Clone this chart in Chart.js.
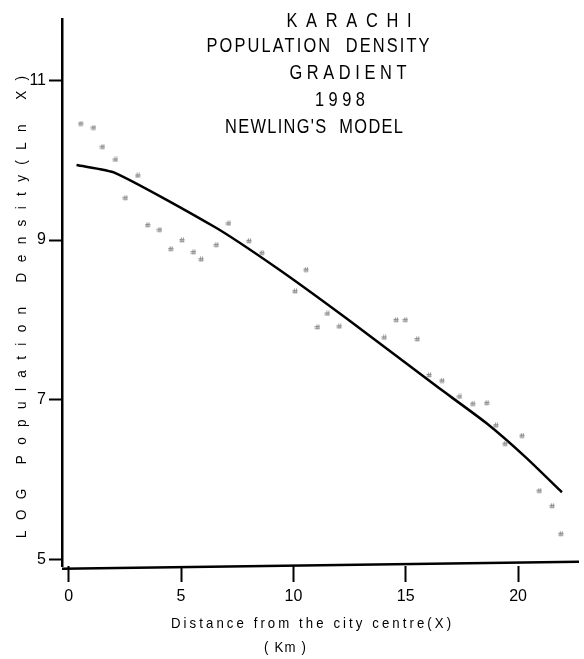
<!DOCTYPE html>
<html>
<head>
<meta charset="utf-8">
<script src="https://cdn.jsdelivr.net/npm/chart.js@4.4.1/dist/chart.umd.min.js"></script>
<style>
    html, body { margin: 0; padding: 0; background: #fff; }
    #wrap { width: 584px; height: 659px; position: relative; }
</style>
</head>
<body>
<div id="wrap"><canvas id="chart" width="584" height="659"></canvas></div>
<script>
// chart text
const titleLines = ["KARACHI", "POPULATION  DENSITY", "GRADIENT", "1998", "NEWLING'S  MODEL"];
const yAxisTitle = "LOG Population Density(Ln X)";
const xAxisTitle = ["Distance from the city centre(X)", "( Km )"];

// tick labels
const xTicks = [0, 5, 10, 15, 20];
const yTicks = [5, 7, 9, 11];

// observed values (distance in km, ln density)
const distance = [0.53, 1.10, 1.50, 2.08, 2.52, 3.07, 3.51, 4.04, 4.54, 5.04, 5.55, 5.89,
    6.57, 7.11, 8.02, 8.59, 10.07, 10.56, 11.07, 11.51, 12.04, 14.04, 14.57, 14.98,
    15.51, 16.04, 16.61, 17.39, 17.98, 18.60, 19.01, 19.42, 20.17, 20.94, 21.51, 21.90];
const logDensity = [10.46, 10.41, 10.17, 10.01, 9.53, 9.81, 9.19, 9.13, 8.89, 9.00, 8.85, 8.76,
    8.94, 9.21, 8.99, 8.84, 8.36, 8.63, 7.91, 8.08, 7.92, 7.78, 8.00, 8.00,
    7.76, 7.31, 7.24, 7.04, 6.95, 6.96, 6.68, 6.45, 6.55, 5.86, 5.67, 5.32];

// fitted Newling's model curve
const modelDistance = [0.35, 2.08, 6.52, 9.31, 12.40, 16.36, 18.57, 20.33, 21.95];
const modelLogDensity = [9.94, 9.84, 9.16, 8.64, 8.01, 7.17, 6.71, 6.28, 5.84];

const FONT = "'Liberation Sans Narrow', 'Liberation Sans', Arial, sans-serif";

// small grey "#" used as the point marker
function hashMark() {
    const c = document.createElement('canvas');
    c.width = 6;
    c.height = 6;
    const g = c.getContext('2d');
    g.strokeStyle = '#8c8c8c';
    g.lineWidth = 1;
    g.beginPath();
    g.moveTo(2.5, 0.5); g.lineTo(2, 5.5);
    g.moveTo(4.5, 0.5); g.lineTo(4, 5.5);
    g.moveTo(0.5, 2.5); g.lineTo(5.5, 2.5);
    g.moveTo(0.5, 4.2); g.lineTo(5.5, 4.2);
    g.stroke();
    return c;
}

// draw condensed text stretched to a given width with letter spacing
function spacedText(ctx, text, cx, cy, width, size, angle, cond) {
    cond = cond || 0.82;
    ctx.save();
    ctx.font = size + 'px ' + FONT;
    ctx.letterSpacing = '0px';
    const w0 = ctx.measureText(text).width;
    const sp = Math.max(0, (width / cond - w0) / (text.length - 1));
    ctx.letterSpacing = sp.toFixed(2) + 'px';
    ctx.translate(cx, cy);
    ctx.rotate(angle || 0);
    ctx.scale(cond, 1);
    ctx.textAlign = 'left';
    ctx.textBaseline = 'middle';
    ctx.fillStyle = '#000';
    ctx.fillText(text, -(w0 + sp * (text.length - 1)) / 2, 0);
    ctx.restore();
}

const textPlugin = {
    id: 'texts',
    afterDraw(chart) {
        const ctx = chart.ctx;
        // title lines, each placed as on the original sheet
        const place = [[349, 21, 125], [318, 46, 223], [348, 73, 117], [340, 100, 50], [314, 127, 178]];
        titleLines.forEach((t, i) => spacedText(ctx, t, place[i][0], place[i][1], place[i][2], 20));
        spacedText(ctx, yAxisTitle, 22, 307, 462, 15, -Math.PI / 2, 0.9);
        spacedText(ctx, xAxisTitle[0], 311, 624, 280, 15, 0, 0.88);
        spacedText(ctx, xAxisTitle[1], 285, 648, 42, 15, 0, 0.88);
    }
};

// hand drawn x axis is slightly tilted
const xAxisLine = {
    id: 'xAxisLine',
    afterDraw(chart) {
        const {ctx, chartArea, scales} = chart;
        ctx.save();
        ctx.strokeStyle = '#000';
        ctx.lineWidth = 2.5;
        ctx.beginPath();
        ctx.moveTo(chartArea.left, scales.y.getPixelForValue(4.88));
        ctx.lineTo(chartArea.right, scales.y.getPixelForValue(4.97));
        ctx.stroke();
        ctx.restore();
    }
};

new Chart(document.getElementById('chart'), {
    type: 'scatter',
    data: {
        datasets: [{
            label: 'Observed',
            data: distance.map((d, i) => ({x: d, y: logDensity[i]})),
            pointStyle: hashMark(),
            pointRadius: 3
        }, {
            label: "Newling's model",
            data: modelDistance.map((d, i) => ({x: d, y: modelLogDensity[i]})),
            showLine: true,
            borderColor: '#000',
            borderWidth: 2.5,
            pointRadius: 0,
            tension: 0.2
        }]
    },
    options: {
        responsive: false,
        animation: false,
        devicePixelRatio: 1,
        layout: {padding: {top: 19, left: 0, right: 0, bottom: 0}},
        plugins: {
            legend: {display: false},
            title: {display: false},
            tooltip: {enabled: false}
        },
        scales: {
            x: {
                type: 'linear',
                min: -0.297,
                max: 22.71,
                afterFit(scale) { scale.height = 93; },
                afterBuildTicks(scale) { scale.ticks = xTicks.map(v => ({value: v})); },
                border: {display: false},
                grid: {drawOnChartArea: false, tickLength: 16, tickWidth: 2, tickColor: '#000'},
                ticks: {color: '#000', padding: 5, font: {family: FONT, size: 16}}
            },
            y: {
                min: 4.916,
                max: 11.77,
                afterFit(scale) { scale.width = 62; },
                afterBuildTicks(scale) { scale.ticks = yTicks.map(v => ({value: v})); },
                border: {display: true, color: '#000', width: 2.5},
                grid: {drawOnChartArea: false, tickLength: 13, tickWidth: 2, tickColor: '#000'},
                ticks: {color: '#000', padding: 3, font: {family: FONT, size: 16}}
            }
        }
    },
    plugins: [textPlugin, xAxisLine]
});
</script>
</body>
</html>
